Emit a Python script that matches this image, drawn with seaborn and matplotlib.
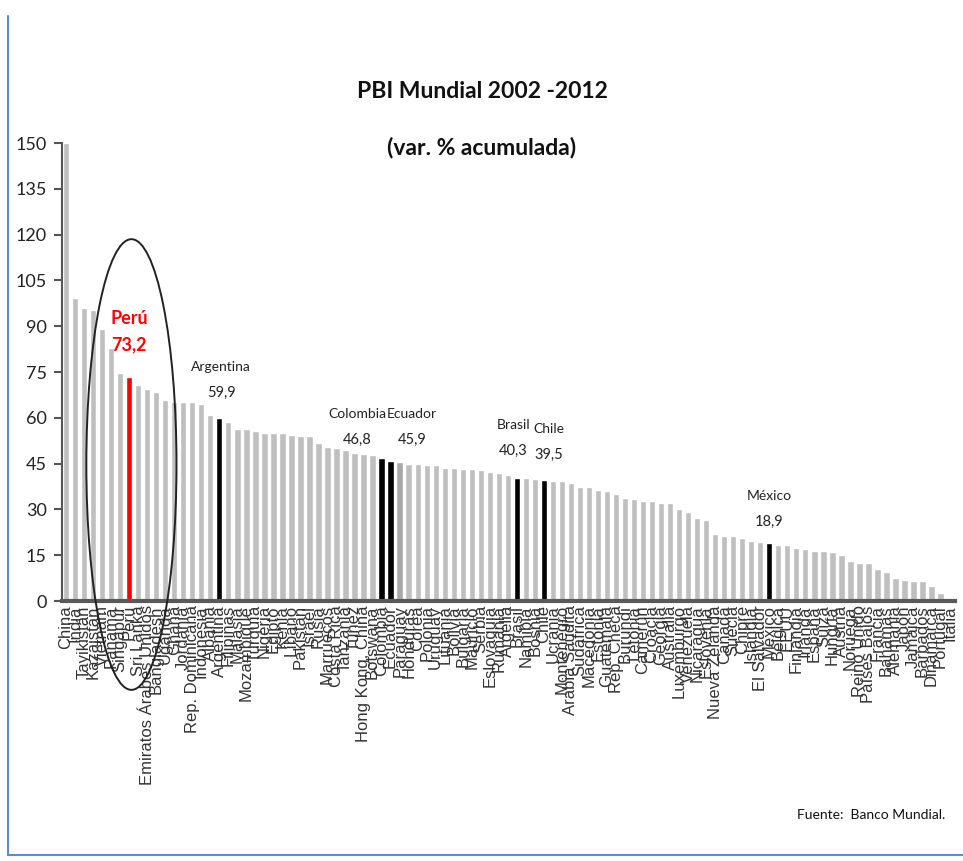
import matplotlib
matplotlib.use("Agg")
import matplotlib.pyplot as plt
from matplotlib.patches import Ellipse
from matplotlib.lines import Line2D
import seaborn as sns

# Cumulative GDP growth 2002-2012 (%), countries ordered from highest to lowest
countries = [
    "China", "India", "Tayikistán", "Kazajstán", "Vietnam", "Panamá", "Singapur",
    "Perú", "Sri Lanka", "Emiratos Árabes Unidos", "Bangladesh", "Uganda", "Ghana",
    "Jordania", "Rep. Dominicana", "Indonesia", "Albania", "Argentina", "Filipinas",
    "Malasia", "Mozambique", "Turquía", "Nigeria", "Egipto", "Kenia", "Líbano",
    "Pakistán", "Israel", "Rusia", "Marruecos", "Costa Rica", "Tanzania", "Túnez",
    "Hong Kong, China", "Botswana", "Colombia", "Ecuador", "Paraguay", "Honduras",
    "Corea", "Polonia", "Uruguay", "Lituania", "Bolivia", "Bulgaria", "Mauricio",
    "Serbia", "Eslovaquia", "Rumania", "Argelia", "Brasil", "Namibia", "Bosnia",
    "Chile", "Ucrania", "Montenegro", "Arabia Saudita", "Sudáfrica", "Macedonia",
    "Estonia", "Guatemala", "Rep. Checa", "Burundi", "Letonia", "Camerún",
    "Croacia", "Georgia", "Australia", "Luxemburgo", "Venezuela", "Nicaragua",
    "Eslovenia", "Nueva Zelanda", "Canadá", "Suecia", "Chipre", "Islandia",
    "El Salvador", "México", "Bélgica", "EEUU", "Finlandia", "Irlanda", "España",
    "Suiza", "Hungría", "Austria", "Noruega", "Reino Unido", "Países Bajos",
    "Francia", "Bahamas", "Alemania", "Japón", "Jamaica", "Barbados", "Dinamarca",
    "Portugal", "Italia",
]

growth = [
    150.0, 99.2, 96.0, 95.3, 89.2, 83.0, 74.8, 73.2, 70.6, 69.4,
    68.6, 65.9, 65.3, 65.3, 65.3, 64.5, 60.8, 59.9, 58.7, 56.4,
    56.4, 55.8, 55.1, 55.1, 55.1, 54.3, 54.0, 54.0, 51.8, 50.5,
    50.2, 49.6, 48.5, 48.3, 47.7, 46.8, 45.9, 45.4, 44.9, 44.8,
    44.5, 44.4, 43.6, 43.5, 43.3, 43.2, 43.0, 42.3, 42.0, 41.4,
    40.3, 40.2, 40.0, 39.5, 39.4, 39.3, 38.7, 37.4, 37.4, 36.3,
    36.1, 35.2, 33.8, 33.3, 32.8, 32.8, 32.2, 32.2, 30.2, 29.2,
    27.3, 26.4, 22.0, 21.4, 21.4, 20.6, 19.8, 19.4, 18.9, 18.5,
    18.3, 17.3, 17.1, 16.3, 16.3, 16.0, 15.2, 13.1, 12.5, 12.4,
    10.4, 9.5, 7.6, 6.9, 6.6, 6.5, 4.9, 2.5, 1.1,
]

highlight_latam = ["Argentina", "Colombia", "Ecuador", "Brasil", "Chile", "México"]
value_labels = {"Perú": "73,2", "Argentina": "59,9", "Colombia": "46,8",
                "Ecuador": "45,9", "Brasil": "40,3", "Chile": "39,5", "México": "18,9"}
source_text = "Fuente:  Banco Mundial."
title_lines = ["PBI Mundial 2002 -2012", "(var. % acumulada)"]

# bar colours
GRAY = "#BFBFBF"
colors = []
for c in countries:
    if c == "Perú":
        colors.append("#FF0000")
    elif c in highlight_latam:
        colors.append("#000000")
    elif c == "Paraguay":
        colors.append("#A8A8A8")
    else:
        colors.append(GRAY)

sns.set_style("white")
NARROW = ["Lato", "DejaVu Sans"]
SANS = ["Liberation Sans", "DejaVu Sans"]
plt.rcParams["font.family"] = SANS

W, H = 963, 861
fig = plt.figure(figsize=(W / 100, H / 100), dpi=100)
fig.patch.set_facecolor("white")
ax = fig.add_axes([62 / W, 1 - 601 / H, (955 - 62) / W, (601 - 143) / H])

sns.barplot(x=countries, y=growth, hue=countries, palette=colors, legend=False,
            width=0.7, saturation=1, ax=ax)

ax.set_xlim(-0.45, len(countries) - 0.4)
ax.set_ylim(0, 150)
ax.set_yticks(range(0, 151, 15))
ax.set_yticklabels([str(v) for v in range(0, 151, 15)], family=NARROW,
                   fontsize=13, color="#222222")
ax.set_xticks(range(len(countries)))
ax.set_xticklabels(countries, rotation=90, family=SANS, fontsize=12,
                   color="#333333")
ax.tick_params(axis="x", length=0, pad=3)
ax.tick_params(axis="y", length=6, width=1.5, color="#555555", pad=5, left=True)
ax.set_xlabel("")
ax.set_ylabel("")

for side in ("top", "right"):
    ax.spines[side].set_visible(False)
ax.spines["left"].set_color("#555555")
ax.spines["left"].set_linewidth(1.5)
ax.spines["bottom"].set_color("#595959")
ax.spines["bottom"].set_linewidth(3)

# value annotations for highlighted countries
label_dx = {"Argentina": 0.2, "Colombia": -2.7, "Ecuador": 2.4,
            "Brasil": -0.4, "Chile": 0.5, "México": 0.0}
label_dy = {"Argentina": 16.7, "Colombia": 14.4, "Ecuador": 15.3,
            "Brasil": 17.3, "Chile": 16.8, "México": 15.5}
for name in highlight_latam:
    i = countries.index(name)
    v = growth[i]
    x = i + label_dx[name]
    ax.text(x, v + label_dy[name], name, ha="center", va="center", family=NARROW,
            fontsize=10, color="#222222")
    ax.text(x, v + label_dy[name] - 8.5, value_labels[name], ha="center",
            va="center", family=NARROW, fontsize=10.5, color="#222222")

ip = countries.index("Perú")
ax.text(ip, growth[ip] + 19.4, "Perú", ha="center", va="center", family=NARROW,
        fontsize=13, fontweight="bold", color="#FF0000")
ax.text(ip, growth[ip] + 10.6, value_labels["Perú"], ha="center", va="center",
        family=NARROW, fontsize=13, fontweight="bold", color="#FF0000")

# ellipse around the group of fast-growing economies that includes Peru
ax.add_patch(Ellipse((ip + 0.25, 44.7), 10.0, 147.6, fill=False,
                     edgecolor="#222222", linewidth=1.4, clip_on=False, zorder=6))

# title
fig.text(482 / W, 1 - 92 / H, title_lines[0], ha="center", va="center",
         family=NARROW, fontsize=16.5, fontweight="bold", color="#111111")
fig.text(482 / W, 1 - 148 / H, title_lines[1], ha="center", va="center",
         family=NARROW, fontsize=16.5, fontweight="bold", color="#111111")

fig.text(945 / W, 1 - 815 / H, source_text, ha="right", va="center",
         family=NARROW, fontsize=10, color="#111111")

# frame lines of the slide box
fig.add_artist(Line2D([8 / W, 8 / W], [1 - 16 / H, 1 - 855 / H],
                      transform=fig.transFigure, color="#5B8BD0", lw=1.5))
fig.add_artist(Line2D([8 / W, 1.0], [1 - 855 / H, 1 - 855 / H],
                      transform=fig.transFigure, color="#5B8BD0", lw=1.5))

fig.savefig("out.png", dpi=100)
